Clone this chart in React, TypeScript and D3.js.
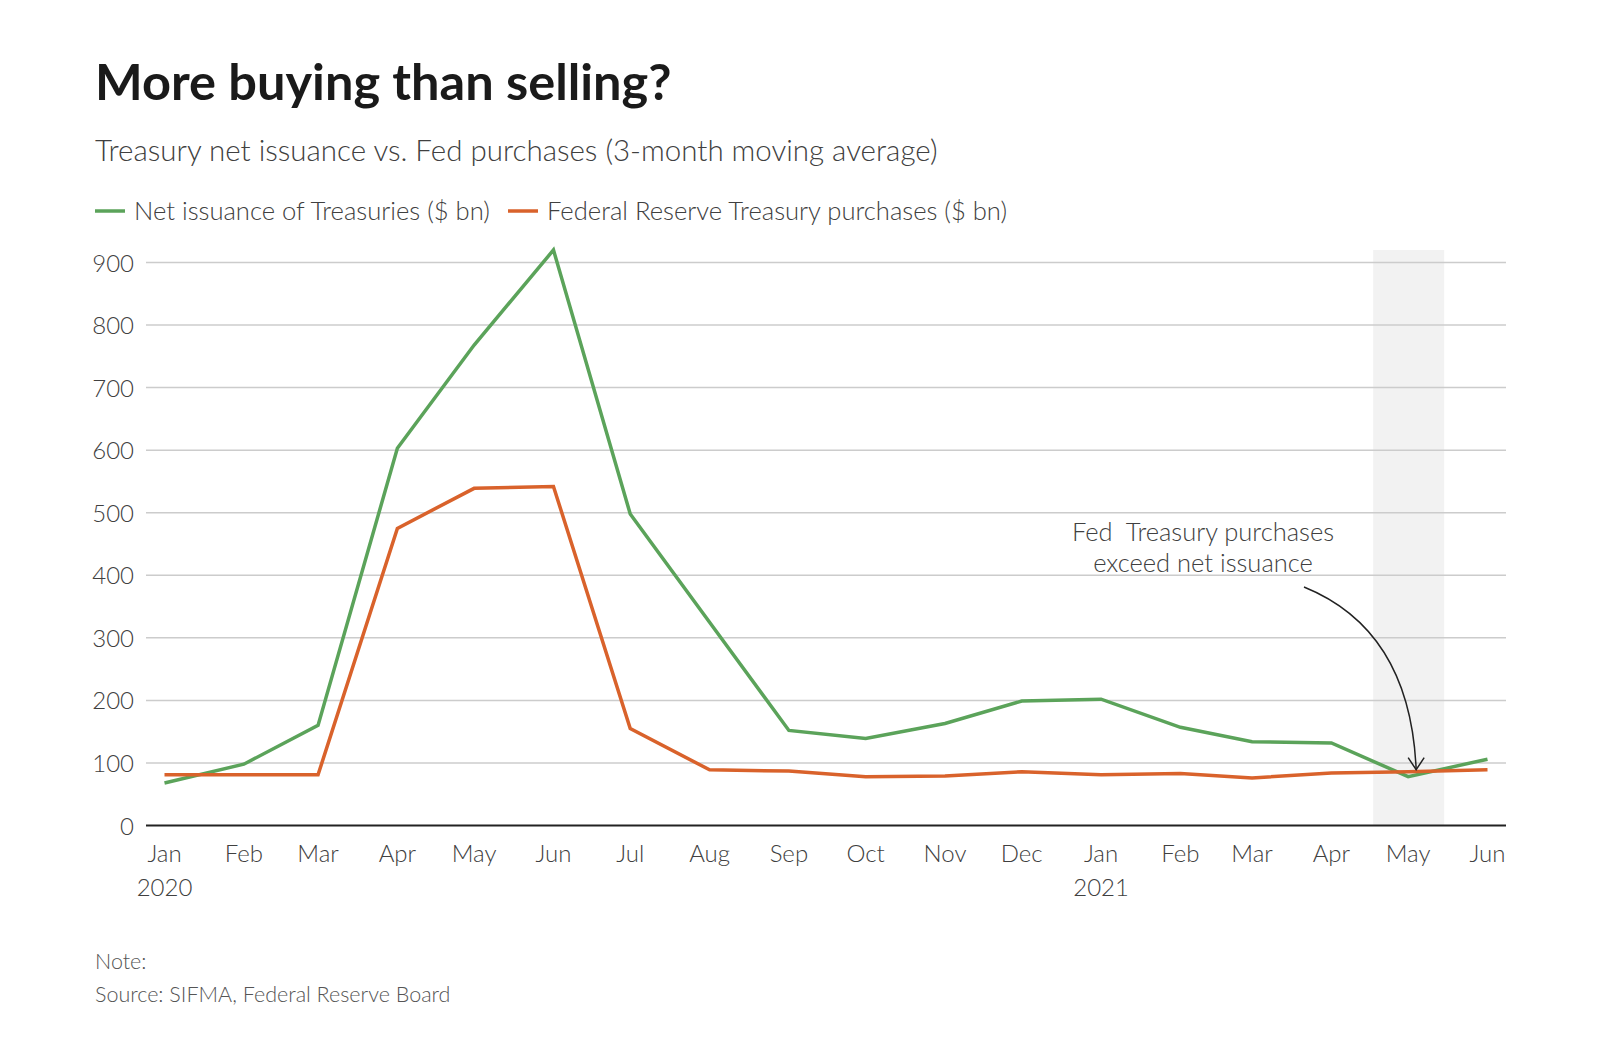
// @ts-nocheck
import React, { useEffect, useRef } from "react";
import * as d3 from "d3";

const months = [
  "2020-01", "2020-02", "2020-03", "2020-04", "2020-05", "2020-06",
  "2020-07", "2020-08", "2020-09", "2020-10", "2020-11", "2020-12",
  "2021-01", "2021-02", "2021-03", "2021-04", "2021-05", "2021-06",
];
const netIssuance = [68, 98, 160, 603, 768, 920, 498, 325, 152, 139, 163, 199, 202, 157, 134, 132, 78, 106];
const fedPurchases = [81, 81, 81, 475, 539, 542, 155, 89, 87, 78, 79, 86, 81, 83, 76, 84, 86, 89];
const yTicks = [0, 100, 200, 300, 400, 500, 600, 700, 800, 900];
const monthLabels = ["Jan", "Feb", "Mar", "Apr", "May", "Jun", "Jul", "Aug", "Sep", "Oct", "Nov", "Dec", "Jan", "Feb", "Mar", "Apr", "May", "Jun"];
const yearLabels = [{ i: 0, text: "2020" }, { i: 12, text: "2021" }];
const seriesNames = ["Net issuance of Treasuries ($ bn)", "Federal Reserve Treasury purchases ($ bn)"];
const colors = ["#5ba35a", "#d9622b"];

const FONT = "'Source Sans Pro', Lato, 'Open Sans', sans-serif";

export default function App() {
  const ref = useRef(null);

  useEffect(() => {
    const svg = d3.select(ref.current);
    svg.selectAll("*").remove();

    const parse = d3.timeParse("%Y-%m");
    const dates = months.map(parse);

    const x = d3.scaleTime()
      .domain([dates[0], dates[dates.length - 1]])
      .range([164.5, 1487.5]);
    const y = d3.scaleLinear().domain([0, 900]).range([825.5, 262.5]);

    const gridLeft = 146;
    const gridRight = 1506;

    // titles
    svg.append("text")
      .attr("x", 95).attr("y", 100)
      .attr("font-family", FONT).attr("font-weight", 700)
      .attr("font-size", 50.5).attr("fill", "#1a1a1a")
      .text("More buying than selling?");

    svg.append("text")
      .attr("x", 95).attr("y", 161)
      .attr("font-family", FONT).attr("font-weight", 300)
      .attr("font-size", 29.5).attr("fill", "#404040")
      .text("Treasury net issuance vs. Fed purchases (3-month moving average)");

    // legend
    const legendX = [95, 508];
    seriesNames.forEach((name, i) => {
      svg.append("line")
        .attr("x1", legendX[i]).attr("x2", legendX[i] + 30)
        .attr("y1", 211).attr("y2", 211)
        .attr("stroke", colors[i]).attr("stroke-width", 3.5);
      svg.append("text")
        .attr("x", legendX[i] + 39).attr("y", 220)
        .attr("font-family", FONT).attr("font-weight", 300)
        .attr("font-size", 25.6).attr("fill", "#404040")
        .text(name);
    });

    // highlighted band around May 2021
    const bandCenter = x(dates[16]);
    svg.append("rect")
      .attr("x", bandCenter - 35).attr("y", 250)
      .attr("width", 71).attr("height", y(0) - 250)
      .attr("fill", "#f2f2f2");

    // gridlines + y labels
    svg.append("g")
      .selectAll("line")
      .data(yTicks.filter(d => d > 0))
      .join("line")
      .attr("x1", gridLeft).attr("x2", gridRight)
      .attr("y1", d => y(d)).attr("y2", d => y(d))
      .attr("stroke", "#cccccc").attr("stroke-width", 1.5);

    svg.append("g")
      .selectAll("text")
      .data(yTicks)
      .join("text")
      .attr("x", 134).attr("y", d => y(d) + 9)
      .attr("text-anchor", "end")
      .attr("font-family", FONT).attr("font-weight", 300)
      .attr("font-size", 24).attr("fill", "#404040")
      .text(d => d);

    // x axis line
    svg.append("line")
      .attr("x1", gridLeft).attr("x2", gridRight)
      .attr("y1", y(0)).attr("y2", y(0))
      .attr("stroke", "#222").attr("stroke-width", 2);

    svg.append("g")
      .selectAll("text")
      .data(monthLabels)
      .join("text")
      .attr("x", (d, i) => x(dates[i]))
      .attr("y", 862)
      .attr("text-anchor", "middle")
      .attr("font-family", FONT).attr("font-weight", 300)
      .attr("font-size", 24).attr("fill", "#404040")
      .text(d => d);

    svg.append("g")
      .selectAll("text")
      .data(yearLabels)
      .join("text")
      .attr("x", d => x(dates[d.i]))
      .attr("y", 896)
      .attr("text-anchor", "middle")
      .attr("font-family", FONT).attr("font-weight", 300)
      .attr("font-size", 24).attr("fill", "#404040")
      .text(d => d.text);

    // lines
    const line = d3.line()
      .x((d, i) => x(dates[i]))
      .y(d => y(d));

    [netIssuance, fedPurchases].forEach((vals, i) => {
      svg.append("path")
        .datum(vals)
        .attr("fill", "none")
        .attr("stroke", colors[i])
        .attr("stroke-width", 3.5)
        .attr("stroke-linejoin", "miter")
        .attr("d", line);
    });

    // annotation
    const ann = svg.append("text")
      .attr("text-anchor", "middle")
      .attr("font-family", FONT).attr("font-weight", 300)
      .attr("font-size", 25.5).attr("fill", "#404040")
      .style("white-space", "pre");
    ann.append("tspan").attr("x", 1203).attr("y", 541).text("Fed  Treasury purchases");
    ann.append("tspan").attr("x", 1203).attr("y", 572).text("exceed net issuance");

    const tipX = x(dates[16]) + 8;
    const tipY = y(fedPurchases[16]) - 2;
    svg.append("path")
      .attr("d", `M1304,587 Q${tipX - 6},630 ${tipX},${tipY}`)
      .attr("fill", "none").attr("stroke", "#222").attr("stroke-width", 1.5);
    svg.append("path")
      .attr("d", `M${tipX - 8},${tipY - 12} L${tipX},${tipY} L${tipX + 8},${tipY - 12}`)
      .attr("fill", "none").attr("stroke", "#222").attr("stroke-width", 1.5);

    // footer
    svg.append("text")
      .attr("x", 95).attr("y", 969)
      .attr("font-family", FONT).attr("font-weight", 300)
      .attr("font-size", 21.5).attr("fill", "#555")
      .text("Note:");
    svg.append("text")
      .attr("x", 95).attr("y", 1002)
      .attr("font-family", FONT).attr("font-weight", 300)
      .attr("font-size", 21.5).attr("fill", "#555")
      .text("Source: SIFMA, Federal Reserve Board");
  }, []);

  return (
    <svg
      ref={ref}
      width={1602}
      height={1058}
      style={{ position: "absolute", left: 0, top: 0, background: "#fff" }}
    />
  );
}
